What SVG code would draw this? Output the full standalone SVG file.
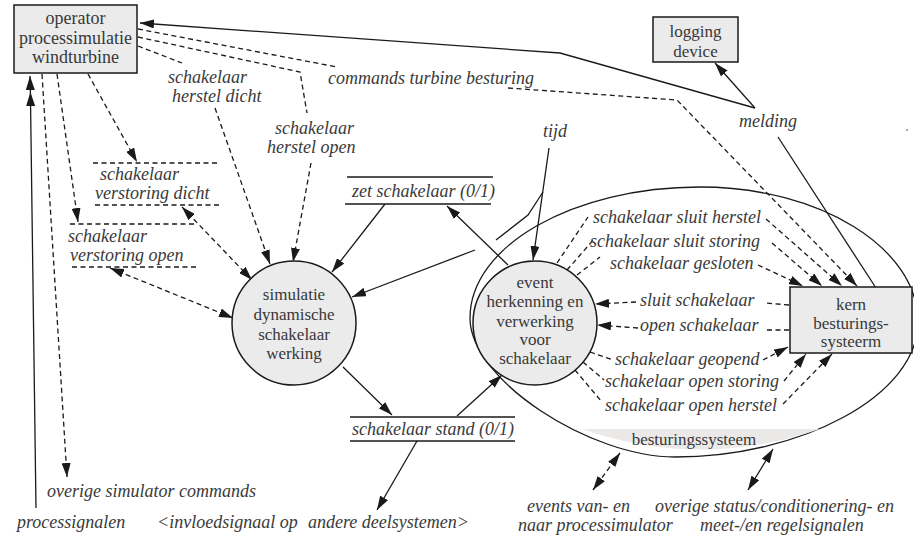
<svg xmlns="http://www.w3.org/2000/svg" width="914" height="537" viewBox="0 0 914 537">
  <style>
    .ln { stroke: #1a1a1a; stroke-width: 1.3; fill: none; }
    .ds { stroke-dasharray: 5 3.5; }
    .node { fill: #ebebeb; stroke: #1a1a1a; stroke-width: 1.5; }
    .nt { font-family: "Liberation Serif", "Times New Roman", serif; font-size: 17px; fill: #383838; text-anchor: middle; }
    .lbl { font-family: "Liberation Serif", "Times New Roman", serif; font-style: italic; font-size: 18px; fill: #3a3a3a; }
    .store { stroke: #1a1a1a; stroke-width: 1.4; }
  </style>
  <defs>
    <marker id="ah" viewBox="0 0 14 9" refX="14" refY="4.5" markerWidth="14" markerHeight="9" markerUnits="userSpaceOnUse" orient="auto-start-reverse">
      <path d="M0,0 L14,4.5 L0,9 z" fill="#1a1a1a"/>
    </marker>
  </defs>

  <rect width="914" height="537" fill="#ffffff"/>

  <!-- system boundary: besturingssysteem -->
  <g id="besturingssysteem">
    <path class="ln" d="M700,187 C820,187 918,248 918,322 C918,396 800,457 675,457 C590,457 470,380 470,318 C470,246 573,187 700,187 Z"/>
    <path d="M582,429 L820,429 Q700,470 582,429 Z" fill="#ebe8e8"/>
    <text class="nt" x="694" y="445">besturingssysteem</text>
  </g>

  <!-- data stores -->
  <g id="store-zet">
    <line class="store" x1="347" y1="177" x2="493" y2="177"/>
    <line class="store" x1="345" y1="204" x2="491" y2="204"/>
    <text class="lbl" x="352" y="197">zet schakelaar (0/1)</text>
  </g>
  <g id="store-stand">
    <line class="store" x1="350" y1="417" x2="515" y2="417"/>
    <line class="store" x1="350" y1="441" x2="515" y2="441"/>
    <text class="lbl" x="352" y="435">schakelaar stand (0/1)</text>
  </g>
  <g id="store-verstoring-dicht">
    <line class="ln ds" x1="93" y1="163" x2="218" y2="163"/>
    <line class="ln ds" x1="95" y1="205" x2="220" y2="205"/>
    <text class="lbl" x="100" y="180">schakelaar</text>
    <text class="lbl" x="95" y="199">verstoring dicht</text>
  </g>
  <g id="store-verstoring-open">
    <line class="ln ds" x1="70" y1="224" x2="195" y2="224"/>
    <line class="ln ds" x1="72" y1="267" x2="197" y2="267"/>
    <text class="lbl" x="68" y="242">schakelaar</text>
    <text class="lbl" x="70" y="261">verstoring open</text>
  </g>

  <!-- connectors -->
  <g id="connectors">
    <!-- melding -->
    <line class="ln" x1="876" y1="288" x2="778" y2="137"/>
    <polyline class="ln" points="755,108 560,53 140,23" marker-end="url(#ah)"/>
    <line class="ln" x1="755" y1="108" x2="715" y2="63" marker-end="url(#ah)"/>
    <!-- processignalen -->
    <polyline class="ln" points="36,508 30.4,92 30,76" marker-mid="url(#ah)" marker-end="url(#ah)"/>
    <!-- operator commands -->
    <line class="ln ds" x1="42" y1="74" x2="67" y2="477" marker-end="url(#ah)"/>
    <line class="ln ds" x1="57" y1="74" x2="78" y2="222" marker-end="url(#ah)"/>
    <line class="ln ds" x1="88" y1="74" x2="137" y2="162" marker-end="url(#ah)"/>
    <line class="ln ds" x1="138" y1="46" x2="182" y2="63"/>
    <line class="ln ds" x1="215" y1="108" x2="270" y2="264" marker-end="url(#ah)"/>
    <polyline class="ln ds" points="138,37 300,72 307,113"/>
    <line class="ln ds" x1="311" y1="163" x2="293" y2="262" marker-end="url(#ah)"/>
    <line class="ln ds" x1="138" y1="29" x2="337" y2="67"/>
    <polyline class="ln ds" points="508,88 677,100 857,286" marker-end="url(#ah)"/>
    <!-- verstoring stores to simulation -->
    <line class="ln ds" x1="182" y1="207" x2="252" y2="280" marker-start="url(#ah)" marker-end="url(#ah)"/>
    <line class="ln ds" x1="110" y1="268" x2="233" y2="318" marker-start="url(#ah)" marker-end="url(#ah)"/>
    <!-- zet schakelaar -->
    <line class="ln" x1="385" y1="204" x2="332" y2="272" marker-end="url(#ah)"/>
    <line class="ln" x1="508" y1="265" x2="447" y2="206" marker-end="url(#ah)"/>
    <!-- tijd -->
    <line class="ln" x1="549" y1="148" x2="533" y2="260" marker-end="url(#ah)"/>
    <polyline class="ln" points="543,192 528,215 496,240"/>
    <line class="ln" x1="475" y1="250" x2="352" y2="297" marker-end="url(#ah)"/>
    <!-- schakelaar stand -->
    <line class="ln" x1="343" y1="367" x2="392" y2="415" marker-end="url(#ah)"/>
    <line class="ln" x1="457" y1="416" x2="502" y2="375" marker-end="url(#ah)"/>
    <line class="ln" x1="417" y1="441" x2="377" y2="510" marker-end="url(#ah)"/>
    <!-- event herkenning to kern -->
    <line class="ln ds" x1="557" y1="263" x2="588" y2="217"/>
    <line class="ln ds" x1="766" y1="219" x2="842" y2="286" marker-end="url(#ah)"/>
    <line class="ln ds" x1="567" y1="270" x2="595" y2="238"/>
    <line class="ln ds" x1="772" y1="243" x2="822" y2="286" marker-end="url(#ah)"/>
    <line class="ln ds" x1="577" y1="275" x2="600" y2="257"/>
    <line class="ln ds" x1="758" y1="265" x2="803" y2="286" marker-end="url(#ah)"/>
    <!-- kern to event herkenning -->
    <line class="ln ds" x1="789" y1="305" x2="766" y2="303"/>
    <line class="ln ds" x1="636" y1="302" x2="595" y2="304" marker-end="url(#ah)"/>
    <line class="ln ds" x1="789" y1="330" x2="764" y2="330"/>
    <line class="ln ds" x1="638" y1="328" x2="597" y2="325" marker-end="url(#ah)"/>
    <!-- open reports to kern -->
    <line class="ln ds" x1="590" y1="352" x2="613" y2="360"/>
    <line class="ln ds" x1="763" y1="360" x2="788" y2="347" marker-end="url(#ah)"/>
    <line class="ln ds" x1="583" y1="362" x2="604" y2="380"/>
    <line class="ln ds" x1="784" y1="381" x2="806" y2="354" marker-end="url(#ah)"/>
    <line class="ln ds" x1="575" y1="370" x2="602" y2="402"/>
    <line class="ln ds" x1="783" y1="404" x2="832" y2="354" marker-end="url(#ah)"/>
    <!-- external interfaces of besturingssysteem -->
    <line class="ln ds" x1="620" y1="453" x2="593" y2="490" marker-start="url(#ah)" marker-end="url(#ah)"/>
    <line class="ln" x1="773" y1="449" x2="748" y2="490" marker-start="url(#ah)" marker-end="url(#ah)"/>
  </g>

  <!-- process nodes -->
  <g id="operator">
    <rect class="node" x="14" y="5" width="123" height="68"/>
    <text class="nt" x="75.5" y="24" style="font-size:18px">operator</text>
    <text class="nt" x="75.5" y="44" style="font-size:18px">processimulatie</text>
    <text class="nt" x="75.5" y="63" style="font-size:18px">windturbine</text>
  </g>
  <g id="logging-device">
    <rect class="node" x="653" y="17" width="85" height="45"/>
    <text class="nt" x="695.5" y="37">logging</text>
    <text class="nt" x="695.5" y="57">device</text>
  </g>
  <g id="kern">
    <rect class="node" x="790" y="287" width="122" height="66"/>
    <text class="nt" x="851" y="310">kern</text>
    <text class="nt" x="851" y="329">besturings-</text>
    <text class="nt" x="851" y="347">systeerm</text>
  </g>
  <g id="simulatie">
    <circle class="node" cx="294" cy="323" r="62"/>
    <text class="nt" x="294" y="300">simulatie</text>
    <text class="nt" x="294" y="320">dynamische</text>
    <text class="nt" x="294" y="340">schakelaar</text>
    <text class="nt" x="294" y="359">werking</text>
  </g>
  <g id="event-herkenning">
    <circle class="node" cx="535" cy="323" r="62"/>
    <text class="nt" x="535" y="288">event</text>
    <text class="nt" x="535" y="307">herkenning en</text>
    <text class="nt" x="535" y="327">verwerking</text>
    <text class="nt" x="535" y="345">voor</text>
    <text class="nt" x="535" y="364">schakelaar</text>
  </g>

  <!-- flow labels -->
  <g id="labels">
    <text class="lbl" x="168" y="83">schakelaar</text>
    <text class="lbl" x="172" y="102">herstel dicht</text>
    <text class="lbl" x="275" y="134">schakelaar</text>
    <text class="lbl" x="267" y="153">herstel open</text>
    <text class="lbl" x="328" y="84">commands turbine besturing</text>
    <text class="lbl" x="543" y="137">tijd</text>
    <text class="lbl" x="739" y="127">melding</text>
    <text class="lbl" x="593" y="223">schakelaar sluit herstel</text>
    <text class="lbl" x="590" y="247">schakelaar sluit storing</text>
    <text class="lbl" x="610" y="269">schakelaar gesloten</text>
    <text class="lbl" x="640" y="306">sluit schakelaar</text>
    <text class="lbl" x="640" y="331">open schakelaar</text>
    <text class="lbl" x="615" y="365">schakelaar geopend</text>
    <text class="lbl" x="605" y="387">schakelaar open storing</text>
    <text class="lbl" x="605" y="411">schakelaar open herstel</text>
    <text class="lbl" x="47" y="497">overige simulator commands</text>
    <text class="lbl" x="17" y="528">processignalen</text>
    <text class="lbl" x="157" y="528">&lt;invloedsignaal op<tspan x="308">andere deelsystemen&gt;</tspan></text>
    <text class="lbl" x="527" y="512">events van- en</text>
    <text class="lbl" x="518" y="531">naar processimulator</text>
    <text class="lbl" x="655" y="512">overige status/conditionering- en</text>
    <text class="lbl" x="700" y="531">meet-/en regelsignalen</text>
  </g>
  <circle cx="907" cy="130" r="0.8" fill="#333"/>
</svg>
